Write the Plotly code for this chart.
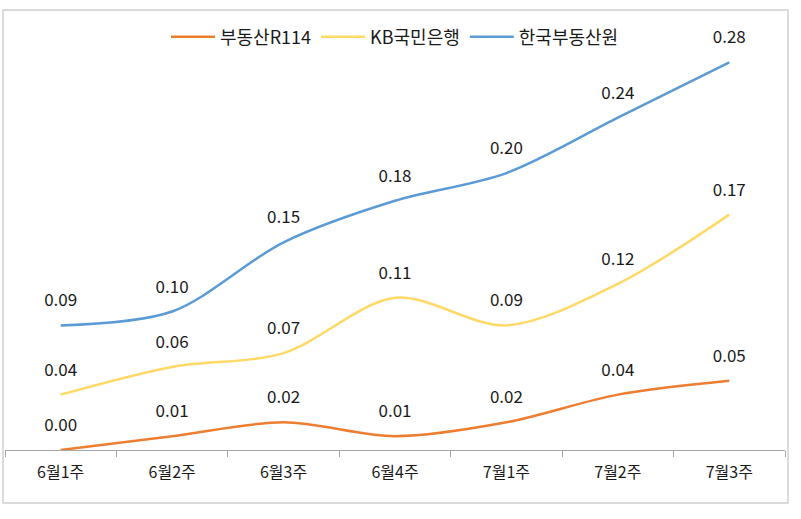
"""Weekly apartment price change by source, smooth line chart."""
import plotly.graph_objects as go

weeks = ["6월1주", "6월2주", "6월3주", "6월4주", "7월1주", "7월2주", "7월3주"]
r114 = [0.00, 0.01, 0.02, 0.01, 0.02, 0.04, 0.05]
kb = [0.04, 0.06, 0.07, 0.11, 0.09, 0.12, 0.17]
reb = [0.09, 0.10, 0.15, 0.18, 0.20, 0.24, 0.28]

series = [
    ("부동산R114", r114, "#ED7D31"),
    ("KB국민은행", kb, "#FFD966"),
    ("한국부동산원", reb, "#5B9BD5"),
]

W, H = 801, 519
FONT = "Noto Sans CJK KR"
TOP = 0.325  # plot area runs from y=450 (0.00) to the top edge

fig = go.Figure()
for name, vals, color in series:
    fig.add_trace(go.Scatter(
        x=weeks, y=vals, name=name,
        mode="lines+markers+text",
        line=dict(color=color, width=2.5, shape="spline", smoothing=0.9),
        # invisible markers only to push the value labels up
        marker=dict(size=22, color="rgba(0,0,0,0)"),
        text=[f"{v:.2f}" for v in vals],
        textposition="top center",
        textfont=dict(family=FONT, size=17, color="#1a1a1a"),
        cliponaxis=False,
    ))

fig.update_layout(
    width=W, height=H,
    margin=dict(l=5, r=16, t=0, b=69, autoexpand=False),
    paper_bgcolor="white", plot_bgcolor="white",
    font=dict(family=FONT, size=16, color="#1a1a1a"),
    showlegend=True,
    legend=dict(
        orientation="h", x=0.5, xanchor="center",
        y=1 - 37 / 450, yanchor="middle",
        font=dict(size=18), itemwidth=44,
        bgcolor="rgba(0,0,0,0)",
    ),
    xaxis=dict(
        type="category", showgrid=False, showline=True, linecolor="#a6a6a6",
        linewidth=1, ticks="outside", tickson="boundaries", ticklen=6,
        tickcolor="#a6a6a6", tickfont=dict(size=16), range=[-0.5, 6.5],
        ticklabelstandoff=8, automargin=False,
    ),
    yaxis=dict(range=[0, TOP], visible=False, automargin=False),
    shapes=[dict(
        type="rect", xref="paper", yref="paper",
        x0=(3 - 5) / 780, x1=(788 - 5) / 780,
        y0=(450 - 503) / 450, y1=(450 - 10) / 450,
        line=dict(color="#d0d0d0", width=1.5), fillcolor="rgba(0,0,0,0)",
    )],
)

# default page body has an 8px margin; drop it so pixels line up
fig.write_html(
    "out.html",
    config={"displayModeBar": False},
    post_script="document.body.style.margin='0';",
)
